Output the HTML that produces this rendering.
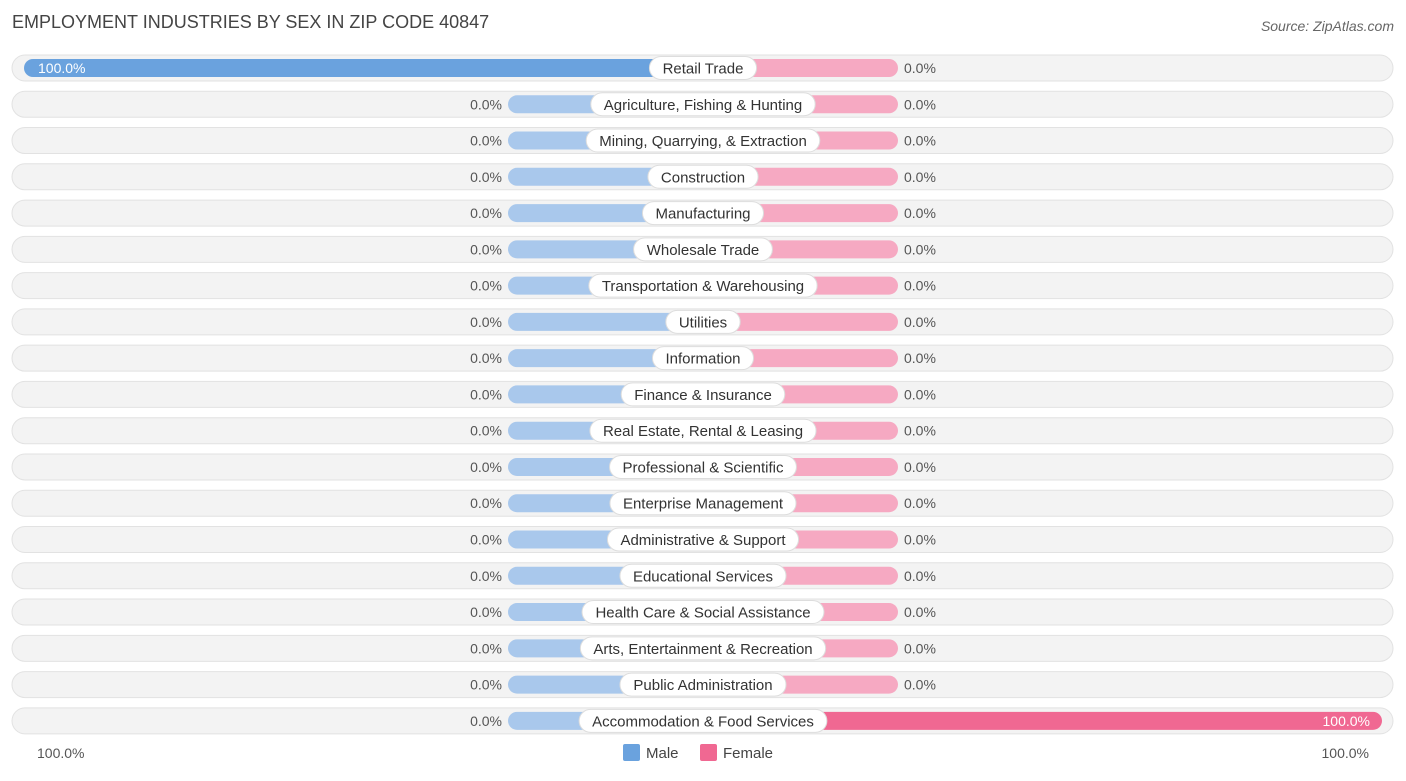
<!DOCTYPE html>
<html><head><meta charset="utf-8"><style>
body{margin:0;background:#fff;font-family:"Liberation Sans",sans-serif;}
svg text{font-family:"Liberation Sans",sans-serif;}
</style></head><body>
<svg id="chart" width="1406" height="776">
<text x="12" y="28" font-size="18" fill="#444">EMPLOYMENT INDUSTRIES BY SEX IN ZIP CODE 40847</text>
<text x="1394" y="31" font-size="14" fill="#666" font-style="italic" text-anchor="end">Source: ZipAtlas.com</text>
<g id="rows"></g>
<text x="37" y="758" font-size="14" fill="#555">100.0%</text>
<text x="1369" y="758" font-size="14" fill="#555" text-anchor="end">100.0%</text>
<rect x="623" y="744" width="17" height="17" rx="2" fill="#6aa2de"/>
<text x="646" y="758" font-size="15" fill="#444">Male</text>
<rect x="700" y="744" width="17" height="17" rx="2" fill="#f06892"/>
<text x="723" y="758" font-size="15" fill="#444">Female</text>
</svg>
<script>
const categories=["Retail Trade","Agriculture, Fishing & Hunting","Mining, Quarrying, & Extraction","Construction","Manufacturing","Wholesale Trade","Transportation & Warehousing","Utilities","Information","Finance & Insurance","Real Estate, Rental & Leasing","Professional & Scientific","Enterprise Management","Administrative & Support","Educational Services","Health Care & Social Assistance","Arts, Entertainment & Recreation","Public Administration","Accommodation & Food Services"];
const maleValues=[100,0,0,0,0,0,0,0,0,0,0,0,0,0,0,0,0,0,0];
const femaleValues=[0,0,0,0,0,0,0,0,0,0,0,0,0,0,0,0,0,0,100];
const NS="http://www.w3.org/2000/svg";
const g=document.getElementById('rows');
const cx=703, full=679, minW=195;
function yPos(i){return 68+i*36.27;}
function wScale(v){return Math.max(v/100*full,minW);}
function mk(tag,attrs,parent){const e=document.createElementNS(NS,tag);for(const k in attrs)e.setAttribute(k,attrs[k]);parent.appendChild(e);return e;}
const meas=document.createElement('canvas').getContext('2d');meas.font='15px "Liberation Sans"';
categories.forEach((c,i)=>{
  const y=yPos(i);
  const row=mk('g',{},g);
  
  
  const bg=mk('rect',{x:12,y:y-13,width:1381,height:26,rx:13,fill:'#f3f3f3',stroke:'#e2e2e2'},row);
  
  
  const mv=maleValues[i], fv=femaleValues[i];
  const mw=wScale(mv), fw=wScale(fv);
  const mb=mk('rect',{x:cx-mw,y:y-9,width:mw,height:18,rx:9,fill:mv>0?'#6aa2de':'#a9c8ec'},row);
  
  
  const fb=mk('rect',{x:cx,y:y-9,width:fw,height:18,rx:9,fill:fv>0?'#f06892':'#f6a9c2'},row);
  
  
  const ml=mk('text',{y:y+5,'font-size':14},row);
  if(mv>0){ml.setAttribute('x',cx-mw+14);ml.setAttribute('fill','#fff');}
  else{ml.setAttribute('x',cx-mw-6);ml.setAttribute('text-anchor','end');ml.setAttribute('fill','#555');}
  ml.textContent=mv.toFixed(1)+'%';
  
  
  const fl=mk('text',{y:y+5,'font-size':14},row);
  if(fv>0){fl.setAttribute('x',cx+fw-12);fl.setAttribute('text-anchor','end');fl.setAttribute('fill','#fff');}
  else{fl.setAttribute('x',cx+fw+6);fl.setAttribute('fill','#555');}
  fl.textContent=fv.toFixed(1)+'%';
  
  
  const tw=meas.measureText(c).width+26;
  const pill=mk('rect',{x:cx-tw/2,y:y-11.5,width:tw,height:23,rx:11.5,fill:'#fff',stroke:'#ddd'},row);
  
  
  const t=mk('text',{x:cx,y:y+5.5,'font-size':15,fill:'#333','text-anchor':'middle'},row);
  t.textContent=c;
  
  
});
</script>
</body></html>
